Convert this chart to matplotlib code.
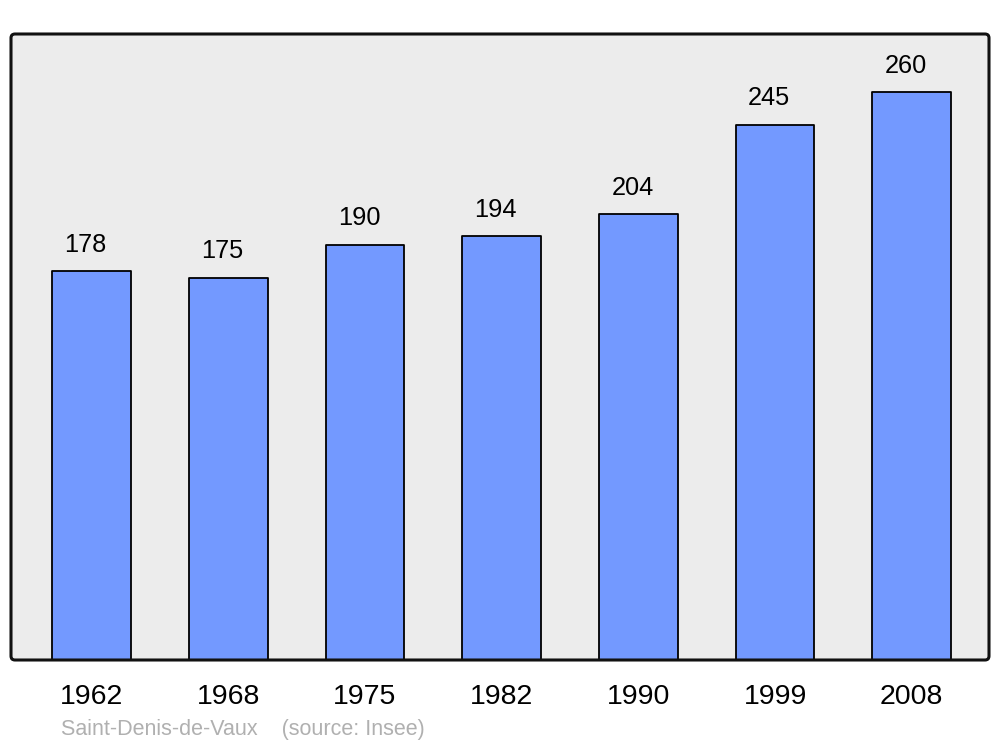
import matplotlib.pyplot as plt
from matplotlib.patches import FancyBboxPatch
from matplotlib.transforms import IdentityTransform

plt.rcParams['font.family'] = ['Liberation Sans', 'DejaVu Sans']

years = ["1962", "1968", "1975", "1982", "1990", "1999", "2008"]
population = [178, 175, 190, 194, 204, 245, 260]

bar_color = "#7399ff"
panel_bg = "#ececec"

fig = plt.figure(figsize=(10, 7.47), dpi=100)
ax = fig.add_axes([0.011, 0.1165, 0.978, 0.838])
ax.set_facecolor(panel_bg)

x = range(len(years))
bars = ax.bar(x, population, width=0.575, color=bar_color, edgecolor="black",
              linewidth=1.3, joinstyle="round", zorder=3)

# value labels sit a little left of the bar centre in the original
for xi, v in zip(x, population):
    ax.annotate(str(v), (xi, v), xytext=(-4.3, 19), textcoords="offset points",
                ha="center", va="center", fontsize=18.3)

ax.set_xlim(-0.59, 6.565)
ax.set_ylim(0, 286.5)
ax.set_yticks([])
ax.set_xticks(list(x))
ax.set_xticklabels(years, fontsize=20.5)
ax.tick_params(axis="x", length=0, pad=17.5)
for s in ax.spines.values():
    s.set_visible(False)

# rounded frame around the plot area, in pixels
frame = FancyBboxPatch((11, 87), 978, 626, boxstyle="round,pad=0,rounding_size=4",
                       transform=IdentityTransform(), fill=False,
                       edgecolor="#111111", linewidth=2.2, zorder=10)
fig.patches.append(frame)

fig.text(0.061, 1 - 730 / 747, "Saint-Denis-de-Vaux    (source: Insee)",
         fontsize=15.5, color="#b0b0b0", va="center", ha="left")

fig.savefig("out.png", dpi=100)
